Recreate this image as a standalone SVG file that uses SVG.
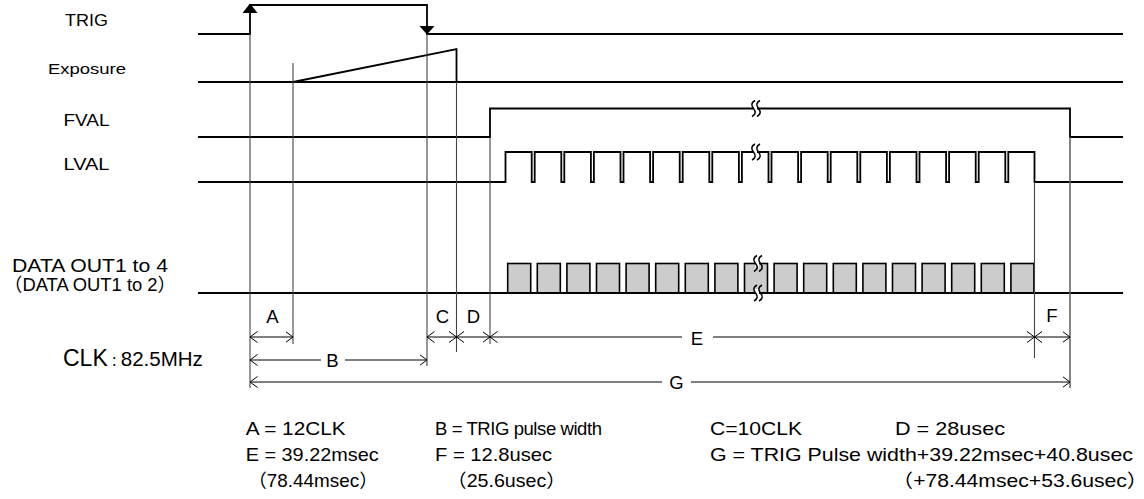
<svg xmlns="http://www.w3.org/2000/svg" width="1144" height="499" viewBox="0 0 1144 499">
<style>
text{font-family:'Liberation Sans','Noto Sans CJK JP',sans-serif;fill:#000}
.lbl{font-size:17px}
.t{font-size:18.5px}
.sig{fill:none;stroke:#000;stroke-width:1.8;stroke-linejoin:miter}
.thin{fill:none;stroke:#444;stroke-width:1.1}
.dim{fill:none;stroke:#000;stroke-width:1}
.box{fill:#cccccc;stroke:#000;stroke-width:1.6}
.brk{fill:none;stroke:#000;stroke-width:1.5}
</style>
<defs>
<marker id="ah" viewBox="0 0 8 12" refX="7.5" refY="6" markerWidth="8" markerHeight="12" markerUnits="userSpaceOnUse" orient="auto-start-reverse">
<path d="M0,0.5 L7.5,6 L0,11.5" fill="none" stroke="#000" stroke-width="1"/>
</marker>
<g id="brk">
<rect x="0" y="-4" width="4" height="8" fill="#fff"/>
<path class="brk" d="M2,-8 Q-3.5,-5 0.5,0 T-1,8"/>
<path class="brk" d="M7,-8 Q1.5,-5 5.5,0 T4,8"/>
</g>
</defs>

<g id="labels">
<text class="lbl" x="86.5" y="26" text-anchor="middle" textLength="43" lengthAdjust="spacingAndGlyphs">TRIG</text>
<text x="87" y="74" font-size="15.5" text-anchor="middle" textLength="78" lengthAdjust="spacingAndGlyphs">Exposure</text>
<text class="lbl" x="86.5" y="126" text-anchor="middle" textLength="46" lengthAdjust="spacingAndGlyphs">FVAL</text>
<text class="lbl" x="86.5" y="170" text-anchor="middle" textLength="46" lengthAdjust="spacingAndGlyphs">LVAL</text>
<text class="t" x="12" y="272" textLength="156" lengthAdjust="spacingAndGlyphs">DATA OUT1 to 4</text>
<text class="t" x="4" y="291" textLength="172" lengthAdjust="spacingAndGlyphs">（DATA OUT1 to 2）</text>
<text x="63" y="366"><tspan font-size="23">CLK</tspan><tspan font-size="13">：</tspan><tspan font-size="20.5">82.5MHz</tspan></text>
</g>

<g id="trig">
<path class="sig" d="M198,34 H250 V5 H427 V34 H1123"/>
<polygon points="250,3.5 257.5,13 242.5,13" fill="#000"/>
<polygon points="427,34.5 434.5,26 419.5,26" fill="#000"/>
</g>

<g id="exposure">
<path class="sig" d="M198,82 H1123"/>
<path class="sig" d="M293,82 L456.5,49 V82"/>
</g>

<g id="fval">
<path class="sig" d="M198,137 H490 V108.5 H1070 V137 H1123"/>
<use href="#brk" x="753" y="108.5"/>
</g>

<g id="lval">
<path class="sig" d="M198,182 H505.5 V152 H531.7 V182 H534.7 V152 H561.3 V182 H564.3 V152 H590.9 V182 H593.9 V152 H620.5 V182 H623.5 V152 H650.1 V182 H653.1 V152 H679.7 V182 H682.7 V152 H709.3 V182 H712.3 V152 H738.9 V182 H741.9 V152 H768.5 V182 H771.5 V152 H798.1 V182 H801.1 V152 H827.7 V182 H830.7 V152 H857.3 V182 H860.3 V152 H886.9 V182 H889.9 V152 H916.5 V182 H919.5 V152 H946.1 V182 H949.1 V152 H975.7 V182 H978.7 V152 H1005.3 V182 H1008.3 V152 H1034.5 V182 H1123"/>
<use href="#brk" x="753" y="152"/>
</g>

<g id="dataout">
<rect class="box" x="507.7" y="263.5" width="23" height="29.5"/>
<rect class="box" x="537.3" y="263.5" width="23" height="29.5"/>
<rect class="box" x="566.9" y="263.5" width="23" height="29.5"/>
<rect class="box" x="596.5" y="263.5" width="23" height="29.5"/>
<rect class="box" x="626.1" y="263.5" width="23" height="29.5"/>
<rect class="box" x="655.7" y="263.5" width="23" height="29.5"/>
<rect class="box" x="685.3" y="263.5" width="23" height="29.5"/>
<rect class="box" x="714.9" y="263.5" width="23" height="29.5"/>
<rect class="box" x="744.5" y="263.5" width="23" height="29.5"/>
<rect class="box" x="774.1" y="263.5" width="23" height="29.5"/>
<rect class="box" x="803.7" y="263.5" width="23" height="29.5"/>
<rect class="box" x="833.3" y="263.5" width="23" height="29.5"/>
<rect class="box" x="862.9" y="263.5" width="23" height="29.5"/>
<rect class="box" x="892.5" y="263.5" width="23" height="29.5"/>
<rect class="box" x="922.1" y="263.5" width="23" height="29.5"/>
<rect class="box" x="951.7" y="263.5" width="23" height="29.5"/>
<rect class="box" x="981.3" y="263.5" width="23" height="29.5"/>
<rect class="box" x="1010.9" y="263.5" width="23" height="29.5"/>
<path class="sig" d="M198,293 H1123"/>
<use href="#brk" x="755" y="263.5"/>
<use href="#brk" x="755" y="293"/>
</g>

<g id="connectors">
<path class="thin" d="M250,34 V388 M293,63 V344 M427,34 V366 M456.5,82 V352 M490,137 V344 M1034.5,182 V358"/>
<path d="M1070,137 V388" fill="none" stroke="#666" stroke-width="1.6"/>
<line class="dim" x1="250" y1="337" x2="293" y2="337" marker-start="url(#ah)" marker-end="url(#ah)"/>
<line class="dim" x1="427" y1="337" x2="456.5" y2="337" marker-start="url(#ah)" marker-end="url(#ah)"/>
<line class="dim" x1="456.5" y1="337" x2="490" y2="337" marker-start="url(#ah)" marker-end="url(#ah)"/>
<line class="dim" x1="490" y1="337" x2="682" y2="337" marker-start="url(#ah)"/>
<line class="dim" x1="713" y1="337" x2="1034.5" y2="337" marker-end="url(#ah)"/>
<line class="dim" x1="1034.5" y1="337" x2="1070" y2="337" marker-start="url(#ah)" marker-end="url(#ah)"/>
<line class="dim" x1="250" y1="360" x2="321" y2="360" marker-start="url(#ah)"/>
<line class="dim" x1="345" y1="360" x2="427" y2="360" marker-end="url(#ah)"/>
<line class="dim" x1="250" y1="382" x2="662" y2="382" marker-start="url(#ah)"/>
<line class="dim" x1="691" y1="382" x2="1070" y2="382" marker-end="url(#ah)"/>
</g>

<g id="dimlabels">
<text class="t" x="272.5" y="323" text-anchor="middle">A</text>
<text class="t" x="332.5" y="366.5" text-anchor="middle">B</text>
<text class="t" x="442.5" y="323" text-anchor="middle">C</text>
<text class="t" x="473.5" y="323" text-anchor="middle">D</text>
<text class="t" x="697" y="344.5" text-anchor="middle">E</text>
<text class="t" x="1052" y="322" text-anchor="middle">F</text>
<text class="t" x="676.5" y="388.5" text-anchor="middle">G</text>
</g>

<g id="notes">
<text class="t" x="245.7" y="435" textLength="100" lengthAdjust="spacingAndGlyphs">A = 12CLK</text>
<text class="t" x="435" y="435" textLength="167" lengthAdjust="spacing">B = TRIG pulse width</text>
<text class="t" x="710" y="435" textLength="92" lengthAdjust="spacingAndGlyphs">C=10CLK</text>
<text class="t" x="895" y="435" textLength="110" lengthAdjust="spacingAndGlyphs">D = 28usec</text>
<text class="t" x="245.7" y="461" textLength="133" lengthAdjust="spacingAndGlyphs">E = 39.22msec</text>
<text class="t" x="435" y="461" textLength="117" lengthAdjust="spacingAndGlyphs">F = 12.8usec</text>
<text class="t" x="710" y="461" textLength="423" lengthAdjust="spacingAndGlyphs">G = TRIG Pulse width+39.22msec+40.8usec</text>
<text class="t" x="248" y="486.5" textLength="130" lengthAdjust="spacingAndGlyphs">（78.44msec）</text>
<text class="t" x="447" y="486.5" textLength="119" lengthAdjust="spacingAndGlyphs">（25.6usec）</text>
<text class="t" x="892" y="486.5" textLength="256" lengthAdjust="spacingAndGlyphs">（+78.44msec+53.6usec）</text>
</g>
</svg>
